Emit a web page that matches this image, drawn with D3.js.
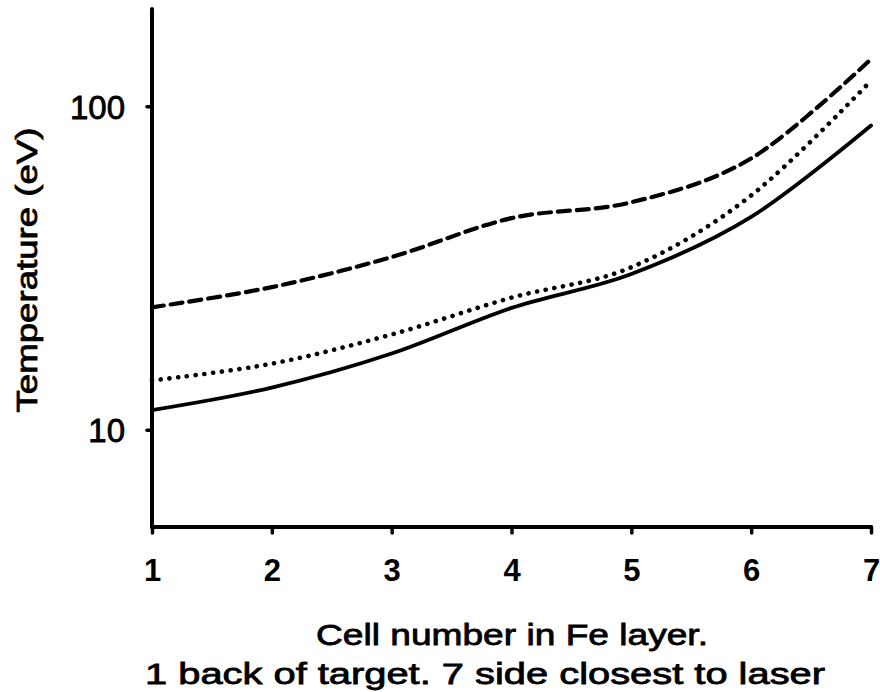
<!DOCTYPE html>
<html>
<head>
<meta charset="utf-8">
<script src="https://cdn.jsdelivr.net/npm/d3@7"></script>
<style>
  html, body { margin: 0; padding: 0; background: #ffffff; }
  svg { display: block; }
  text { font-family: "Liberation Sans", Arial, sans-serif; fill: #000; }
</style>
</head>
<body>
<svg id="chart" width="880" height="692"></svg>
<script>
// ---- data ----
const cells = [1, 2, 3, 4, 5, 6, 7];
const solidSeries  = [11.5, 13.5, 17.2, 23.8, 30.3, 45.5, 87.2];
const dottedSeries = [14.2, 16.0, 19.7, 25.6, 31.8, 53.0, 120];
const dashedSeries = [23.9, 27.6, 34.2, 45.1, 50.5, 69.0, 140];
const xTickValues = [1, 2, 3, 4, 5, 6, 7];
const yTickValues = [10, 100];
const xTitleLines = ["Cell number in Fe layer.", "1 back of target. 7 side closest to laser"];
const yTitle = "Temperature (eV)";

(function () {
  // ---- layout ----
  const svg = d3.select("#chart");
  const pLeft = 152, pRight = 871, pTop = 9, pBottom = 527;

  const x = d3.scaleLinear().domain([1, 7]).range([pLeft, pRight]);
  const y = d3.scaleLog().domain([5, 200]).range([pBottom, pTop]);

  const line = d3.line()
    .x((d, i) => x(cells[i]))
    .y(d => y(d))
    .curve(d3.curveCardinal.tension(0));

  // series
  const series = [
    { values: solidSeries,  dash: null,      width: 3.8 },
    { values: dottedSeries, dash: "0.1 8.7", width: 4.6 },
    { values: dashedSeries, dash: "12 7",    width: 4.2 }
  ];
  series.forEach(s => {
    svg.append("path")
      .attr("d", line(s.values))
      .attr("fill", "none")
      .attr("stroke", "#000")
      .attr("stroke-width", s.width)
      .attr("stroke-linecap", "round")
      .attr("stroke-linejoin", "round")
      .attr("stroke-dasharray", s.dash);
  });

  // axes
  const xAxis = d3.axisBottom(x).tickValues(xTickValues).tickFormat(d3.format("d")).tickSize(6).tickPadding(26);
  const yAxis = d3.axisLeft(y).tickValues(yTickValues).tickFormat(d3.format("d")).tickSize(5).tickPadding(22);

  const gx = svg.append("g").attr("transform", `translate(0,${pBottom})`).call(xAxis);
  const gy = svg.append("g").attr("transform", `translate(${pLeft},0)`).call(yAxis);

  [gx, gy].forEach(g => {
    g.select(".domain").remove();
    g.selectAll(".tick line").attr("stroke", "#000").attr("stroke-width", 3.5).attr("stroke-linecap", "round");
    g.selectAll(".tick text")
      .attr("fill", "#000")
      .style("font-family", '"Liberation Sans", Arial, sans-serif')
      .style("font-size", "31px");
  });
  gx.selectAll(".tick text").style("font-weight", "bold");
  gy.selectAll(".tick text").attr("dy", "0.36em").style("font-weight", "normal").style("font-size", "33px")
    .attr("stroke", "#000").attr("stroke-width", 0.8);

  // axis lines
  svg.append("line").attr("x1", pLeft).attr("x2", pLeft).attr("y1", pTop).attr("y2", pBottom)
    .attr("stroke", "#000").attr("stroke-width", 4).attr("stroke-linecap", "round");
  svg.append("line").attr("x1", pLeft).attr("x2", pRight).attr("y1", pBottom).attr("y2", pBottom)
    .attr("stroke", "#000").attr("stroke-width", 4).attr("stroke-linecap", "round");

  // x title
  const titleWidths = [392, 680];
  const titleCenters = [512, 485];
  const titleBaselines = [645, 684];
  xTitleLines.forEach((t, i) => {
    svg.append("text")
      .attr("x", titleCenters[i])
      .attr("y", titleBaselines[i])
      .attr("text-anchor", "middle")
      .attr("textLength", titleWidths[i])
      .attr("lengthAdjust", "spacingAndGlyphs")
      .attr("stroke", "#000")
      .attr("stroke-width", 0.8)
      .style("font-size", "30px")
      .text(t);
  });

  // y title
  svg.append("text")
    .attr("transform", "translate(37,270) rotate(-90)")
    .attr("text-anchor", "middle")
    .attr("textLength", 285)
    .attr("lengthAdjust", "spacingAndGlyphs")
    .attr("stroke", "#000")
    .attr("stroke-width", 0.8)
    .style("font-size", "30px")
    .text(yTitle);
})();
</script>
</body>
</html>
